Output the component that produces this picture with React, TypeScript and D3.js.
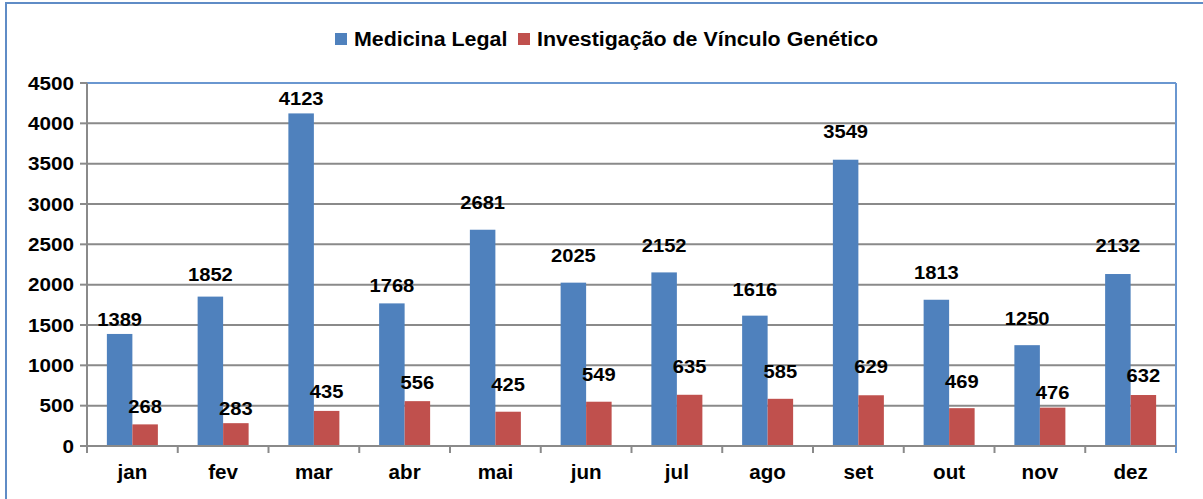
import React from "react";
import * as d3 from "d3";

const months = ["jan", "fev", "mar", "abr", "mai", "jun", "jul", "ago", "set", "out", "nov", "dez"];
const medicinaLegal = [1389, 1852, 4123, 1768, 2681, 2025, 2152, 1616, 3549, 1813, 1250, 2132];
const vinculoGenetico = [268, 283, 435, 556, 425, 549, 635, 585, 629, 469, 476, 632];
const seriesNames = ["Medicina Legal", "Investigação de Vínculo Genético"];
const yTicks = [0, 500, 1000, 1500, 2000, 2500, 3000, 3500, 4000, 4500];

// how far above each bar its label sits (labels were hand placed in the original)
const blueLift = [8, 16, 8, 11, 21, 21, 20, 20, 22, 21, 20, 22];
const redLift = [11, 8, 13, 12, 21, 21, 22, 21, 22, 20, 9, 13];

const W = 1203;
const H = 499;
const FONT = "'Liberation Sans', Arial, sans-serif";
const BLUE = "#4F81BD";
const RED = "#C0504D";
const GRID = "#8A8A8A";

const Txt = ({ x, y, size, sx = 1, anchor = "middle", children }: any) => (
  <text
    transform={`translate(${x},${y}) scale(${sx},1)`}
    textAnchor={anchor}
    fontFamily={FONT}
    fontWeight="bold"
    fontSize={size}
    fill="#000"
  >
    {children}
  </text>
);

const App = () => {
  const left = 87;
  const right = 1176;
  const top = 83;
  const bottom = 446;

  const x = d3.scaleBand<string>().domain(months).range([left, right]).paddingInner(0.438).paddingOuter(0.219);
  const xs = d3.scaleBand<string>().domain(["a", "b"]).range([0, x.bandwidth()]).padding(0);
  const y = d3.scaleLinear().domain([0, 4500]).range([bottom, top]);
  const step = x.step();

  const series = [
    { key: "a", values: medicinaLegal, color: BLUE, lift: blueLift },
    { key: "b", values: vinculoGenetico, color: RED, lift: redLift },
  ];

  return (
    <div style={{ position: "absolute", left: 0, top: 0 }}>
      <svg width={W} height={H} style={{ display: "block", background: "#fff" }}>
        <rect x={6} y={3} width={W + 20} height={H + 20} fill="#fff" stroke="#5F8CC6" strokeWidth={2} />

        {/* legend */}
        <rect x={335} y={33} width={12} height={12} fill={BLUE} />
        <Txt x={354} y={46} size={20} sx={1.07} anchor="start">{seriesNames[0]}</Txt>
        <rect x={518} y={33} width={12} height={12} fill={RED} />
        <Txt x={537} y={46} size={20} sx={1.07} anchor="start">{seriesNames[1]}</Txt>

        {/* gridlines */}
        {yTicks.slice(1).map((t) => (
          <line key={t} x1={left} x2={right} y1={y(t)} y2={y(t)} stroke={GRID} strokeWidth={2} />
        ))}

        {/* bars */}
        {series.map((s) =>
          months.map((m, i) => (
            <rect
              key={s.key + m}
              x={(x(m) as number) + (xs(s.key) as number)}
              y={y(s.values[i])}
              width={xs.bandwidth()}
              height={bottom - y(s.values[i])}
              fill={s.color}
            />
          ))
        )}

        {/* plot border top/right */}
        <line x1={left} x2={right} y1={top} y2={top} stroke="#6A97D0" strokeWidth={2} />
        <line x1={right} x2={right} y1={top} y2={bottom + 7} stroke="#6A97D0" strokeWidth={2} />

        {/* axes */}
        <line x1={left} x2={left} y1={top} y2={bottom} stroke={GRID} strokeWidth={2} />
        <line x1={left} x2={right} y1={bottom} y2={bottom} stroke={GRID} strokeWidth={2} />
        {yTicks.map((t) => (
          <g key={t}>
            <line x1={left - 7} x2={left} y1={y(t)} y2={y(t)} stroke={GRID} strokeWidth={2} />
            <Txt x={74} y={y(t) + 6.5} size={18} sx={1.15} anchor="end">{t}</Txt>
          </g>
        ))}
        {months.map((m, i) => (
          <line
            key={m}
            x1={left + i * step}
            x2={left + i * step}
            y1={bottom}
            y2={bottom + 7}
            stroke={GRID}
            strokeWidth={2}
          />
        ))}
        {months.map((m) => (
          <Txt key={m} x={(x(m) as number) + x.bandwidth() / 2} y={479} size={20} sx={1.03}>{m}</Txt>
        ))}

        {/* value labels */}
        {series.map((s) =>
          months.map((m, i) => (
            <Txt
              key={"l" + s.key + m}
              x={(x(m) as number) + (xs(s.key) as number) + xs.bandwidth() / 2}
              y={y(s.values[i]) - s.lift[i]}
              size={18}
              sx={1.12}
            >
              {s.values[i]}
            </Txt>
          ))
        )}
      </svg>
    </div>
  );
};

export default App;
